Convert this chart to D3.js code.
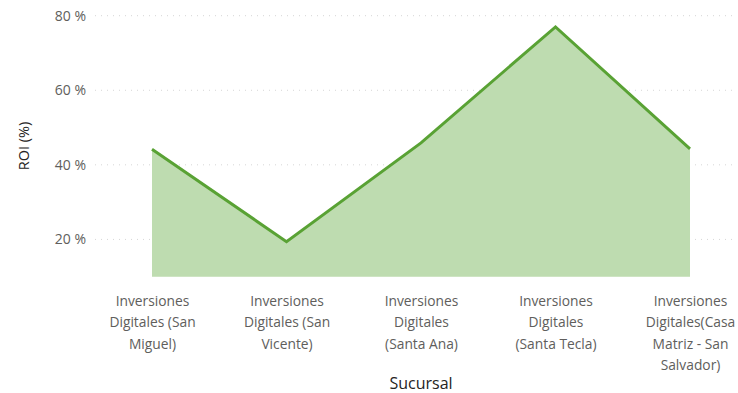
<!DOCTYPE html>
<html>
<head>
<meta charset="utf-8">
<script src="https://cdn.jsdelivr.net/npm/d3@7"></script>
<style>
  html, body { margin: 0; padding: 0; background: #fff; }
  svg { display: block; font-family: "Segoe UI", "Open Sans", sans-serif; }
</style>
</head>
<body>
<svg id="chart" width="738" height="393"></svg>
<script>
// ROI by branch
const categories = [
  "Inversiones Digitales (San Miguel)",
  "Inversiones Digitales (San Vicente)",
  "Inversiones Digitales (Santa Ana)",
  "Inversiones Digitales (Santa Tecla)",
  "Inversiones Digitales(Casa Matriz - San Salvador)"
];
const roiValues = [44.2, 19.4, 45.9, 77.0, 44.3];
const categoryLabelLines = [
  ["Inversiones", "Digitales (San", "Miguel)"],
  ["Inversiones", "Digitales (San", "Vicente)"],
  ["Inversiones", "Digitales", "(Santa Ana)"],
  ["Inversiones", "Digitales", "(Santa Tecla)"],
  ["Inversiones", "Digitales(Casa", "Matriz - San", "Salvador)"]
];
const yTickValues = [20, 40, 60, 80];

const svg = d3.select("#chart");
const data = categories.map((c, i) => ({ cat: c, v: roiValues[i], lines: categoryLabelLines[i] }));

const x = d3.scalePoint().domain(categories).range([152, 690]);
const y = d3.scaleLinear().domain([10, 80]).range([276.7, 15.7]);

// dotted gridlines
svg.append("g")
  .selectAll("line")
  .data(yTickValues)
  .join("line")
  .attr("x1", 95).attr("x2", 736)
  .attr("y1", d => y(d)).attr("y2", d => y(d))
  .attr("stroke", "#d6d6d6")
  .attr("stroke-width", 1)
  .attr("stroke-dasharray", "1,5");

// y axis labels
const yAxis = svg.append("g")
  .attr("transform", "translate(86,0)")
  .call(d3.axisLeft(y).tickValues(yTickValues).tickSize(0).tickPadding(0).tickFormat(d => d + " %"));
yAxis.select(".domain").remove();
yAxis.selectAll("text")
  .attr("fill", "#605e5c")
  .attr("font-size", 14)
  .attr("font-family", "\"Segoe UI\", \"Open Sans\", sans-serif");

// area + line
const area = d3.area()
  .x(d => x(d.cat))
  .y0(y(10))
  .y1(d => y(d.v));
const line = d3.line()
  .x(d => x(d.cat))
  .y(d => y(d.v));

svg.append("path")
  .datum(data)
  .attr("d", area)
  .attr("fill", "#bedcb0");

svg.append("path")
  .datum(data)
  .attr("d", line)
  .attr("fill", "none")
  .attr("stroke", "#59a234")
  .attr("stroke-width", 3)
  .attr("stroke-linejoin", "miter");

// x axis labels (wrapped)
const xAxis = svg.append("g")
  .attr("transform", "translate(0,286)")
  .call(d3.axisBottom(x).tickSize(0).tickPadding(0));
xAxis.select(".domain").remove();
xAxis.selectAll("text")
  .attr("fill", "#605e5c")
  .attr("font-size", 13.8)
  .attr("font-family", "\"Segoe UI\", \"Open Sans\", sans-serif")
  .attr("dy", null)
  .attr("y", 0)
  .each(function(d, i) {
    const t = d3.select(this);
    t.text(null);
    categoryLabelLines[i].forEach((ln, k) => {
      t.append("tspan")
        .attr("x", 0)
        .attr("y", 19.5 + k * 21.5)
        .text(ln);
    });
  });

// axis titles
svg.append("text")
  .attr("x", 421).attr("y", 389)
  .attr("text-anchor", "middle")
  .attr("font-size", 16)
  .attr("fill", "#252423")
  .text("Sucursal");

svg.append("text")
  .attr("transform", "translate(29,146) rotate(-90)")
  .attr("text-anchor", "middle")
  .attr("font-size", 14.5)
  .attr("fill", "#252423")
  .text("ROI (%)");
</script>
</body>
</html>
